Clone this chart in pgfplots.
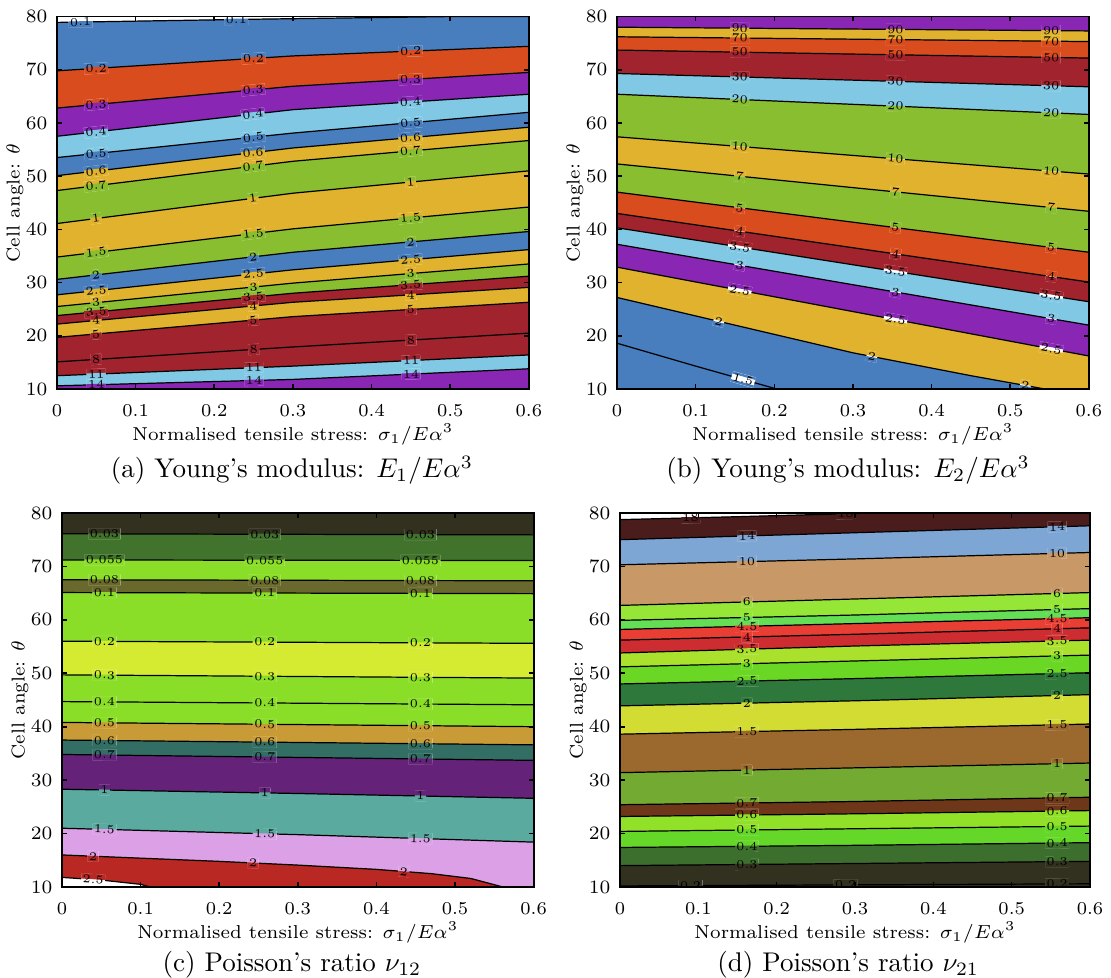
\documentclass[border=0pt]{standalone}
\usepackage{pgfplots}
\pgfplotsset{compat=1.18}
\usepgfplotslibrary{fillbetween}

% palette of panels (a) and (b)
\definecolor{aB}{RGB}{72,125,190}
\definecolor{aO}{RGB}{217,76,30}
\definecolor{aP}{RGB}{138,38,180}
\definecolor{aL}{RGB}{128,200,228}
\definecolor{aG}{RGB}{224,178,45}
\definecolor{aN}{RGB}{136,190,48}
\definecolor{aR}{RGB}{160,35,45}
% panel (c)
\definecolor{cK}{RGB}{50,48,30}
\definecolor{cD}{RGB}{65,115,45}
\definecolor{cL}{RGB}{138,222,40}
\definecolor{cO}{RGB}{105,105,45}
\definecolor{cY}{RGB}{212,235,50}
\definecolor{cH}{RGB}{200,155,55}
\definecolor{cT}{RGB}{50,110,100}
\definecolor{cP}{RGB}{100,35,120}
\definecolor{cS}{RGB}{90,170,160}
\definecolor{cI}{RGB}{220,160,230}
\definecolor{cR}{RGB}{185,40,35}
% panel (d)
\definecolor{dM}{RGB}{75,28,28}
\definecolor{dS}{RGB}{125,166,212}
\definecolor{dT}{RGB}{200,152,102}
\definecolor{dA}{RGB}{150,230,55}
\definecolor{dB}{RGB}{100,222,85}
\definecolor{dR}{RGB}{232,62,52}
\definecolor{dQ}{RGB}{205,45,48}
\definecolor{dY}{RGB}{170,225,45}
\definecolor{dG}{RGB}{105,215,35}
\definecolor{dD}{RGB}{45,120,58}
\definecolor{dW}{RGB}{210,220,50}
\definecolor{dN}{RGB}{155,105,45}
\definecolor{dO}{RGB}{115,170,50}
\definecolor{dE}{RGB}{110,55,25}
\definecolor{dL}{RGB}{145,225,40}
\definecolor{dF}{RGB}{100,215,40}
\definecolor{dK}{RGB}{60,110,45}
\definecolor{dV}{RGB}{50,48,30}

\tikzset{
  cl/.style={black, line width=0.45pt},
  lb/.style 2 args={sloped, fill=white, inner sep=0.5pt, font=\fontsize{4.4}{4.4}\selectfont,
    path picture={\fill[#1] (path picture bounding box.north west) rectangle (path picture bounding box.east);
                  \fill[#2] (path picture bounding box.west) rectangle (path picture bounding box.south east);}},
}
\newcommand\lbl[4]{node[lb={#1}{#2},pos=#3]{#4}}
\newcommand\tA[3]{\lbl{#1}{#2}{.083}{#3}\lbl{#1}{#2}{.417}{#3}\lbl{#1}{#2}{.75}{#3}}
\newcommand\tB[3]{\lbl{#1}{#2}{.26}{#3}\lbl{#1}{#2}{.59}{#3}\lbl{#1}{#2}{.92}{#3}}
\newcommand\tC[3]{\lbl{#1}{#2}{.09}{#3}\lbl{#1}{#2}{.43}{#3}\lbl{#1}{#2}{.76}{#3}}
\newcommand\tD[3]{\lbl{#1}{#2}{.27}{#3}\lbl{#1}{#2}{.93}{#3}}
\newcommand\fb[2]{\addplot[fill=#2, draw=none, forget plot] fill between[of=#1 and bot];}

% x is kept in hundredths of sigma_1/(E alpha^3); the tick labels give the real values
\pgfplotsset{pan/.style={
  scale only axis, anchor=south west,
  xmin=0, xmax=60, ymin=10, ymax=80,
  xtick={0,10,20,30,40,50,60}, xticklabels={0,0.1,0.2,0.3,0.4,0.5,0.6},
  ytick={10,20,30,40,50,60,70,80},
  set layers, axis on top,
  major tick length=1.8pt, tick style={black, line width=0.6pt},
  axis line style={line width=0.65pt},
  tick label style={font=\fontsize{6.7}{8}\selectfont},
  xticklabel style={yshift=-2.3pt},
  label style={font=\fontsize{6.9}{8}\selectfont},
  xlabel={Normalised tensile stress: $\sigma_1/E\alpha^3$},
  xlabel style={at={(axis description cs:0.5,-0.122)}, anchor=center},
  ylabel={Cell angle: $\theta$},
  ylabel style={at={(axis description cs:-0.089,0.5)}, anchor=center},
}}

\begin{document}
\begin{tikzpicture}

% (a) Young's modulus E1
\begin{axis}[pan, at={(21.09pt,217.56pt)}, width=174.6pt, height=137.8pt, axis background/.style={fill=white}]
\addplot[draw=none, forget plot, name path=bot] coordinates {(0,10) (60,10)};
\addplot[cl, name path=a1] coordinates {(0,78.9) (25,79.5) (50,80) (60,80)} \lbl{white}{aB}{.05}{0.1} \lbl{white}{aB}{.38}{0.1};
\fb{a1}{aB}
\addplot[cl, name path=a2] coordinates {(0,69.8) (30,72.6) (60,74.4)} \tA{aB}{aO}{0.2};
\fb{a2}{aO}
\addplot[cl, name path=a3] coordinates {(0,62.8) (30,66.9) (60,69.5)} \tA{aO}{aP}{0.3};
\fb{a3}{aP}
\addplot[cl, name path=a4] coordinates {(0,57.5) (30,62.5) (60,65.4)} \tA{aP}{aL}{0.4};
\fb{a4}{aL}
\addplot[cl, name path=a5] coordinates {(0,53.5) (30,58.1) (60,62.0)} \tA{aL}{aB}{0.5};
\fb{a5}{aB}
\addplot[cl, name path=a6] coordinates {(0,50.1) (30,55.3) (60,59.2)} \tA{aB}{aG}{0.6};
\fb{a6}{aG}
\addplot[cl, name path=a7] coordinates {(0,47.3) (30,52.8) (60,56.7)} \tA{aG}{aN}{0.7};
\fb{a7}{aN}
\addplot[cl, name path=a8] coordinates {(0,41.1) (30,46.8) (60,51.0)} \tA{aN}{aG}{1};
\fb{a8}{aG}
\addplot[cl, name path=a9] coordinates {(0,34.8) (30,40.1) (60,44.2)} \tA{aG}{aN}{1.5};
\fb{a9}{aN}
\addplot[cl, name path=a10] coordinates {(0,30.6) (30,35.7) (60,39.6)} \tA{aN}{aB}{2};
\fb{a10}{aB}
\addplot[cl, name path=a11] coordinates {(0,27.7) (30,32.4) (60,36.2)} \tA{aB}{aG}{2.5};
\fb{a11}{aG}
\addplot[cl, name path=a12] coordinates {(0,25.5) (30,29.9) (60,33.5)} \tA{aG}{aN}{3};
\fb{a12}{aN}
\addplot[cl, name path=a13] coordinates {(0,23.8) (30,28.0) (60,31.2)} \tA{aN}{aR}{3.5};
\fb{a13}{aR}
\addplot[cl, name path=a14] coordinates {(0,22.2) (30,26.3) (60,29.1)} \tA{aR}{aG}{4};
\fb{a14}{aG}
\addplot[cl, name path=a15] coordinates {(0,19.7) (30,23.6) (60,26.3)} \tA{aG}{aR}{5};
\fb{a15}{aR}
\addplot[cl, name path=a16] coordinates {(0,15.1) (30,17.9) (60,20.5)} \tA{aR}{aR}{8};
\fb{a16}{aR}
\addplot[cl, name path=a17] coordinates {(0,12.5) (30,14.3) (60,16.4)} \tA{aR}{aL}{11};
\fb{a17}{aL}
\addplot[cl, name path=a18] coordinates {(0,10.6) (30,11.8) (60,13.8)} \tA{aL}{aP}{14};
\fb{a18}{aP}
\end{axis}

% (b) Young's modulus E2
\begin{axis}[pan, at={(228.3pt,217.56pt)}, width=174.6pt, height=137.8pt, axis background/.style={fill=aP}]
\addplot[draw=none, forget plot, name path=bot] coordinates {(0,10) (60,10)};
\addplot[cl, name path=b1] coordinates {(0,78.0) (30,77.65) (60,77.3)} \tB{aP}{aG}{90};
\fb{b1}{aG}
\addplot[cl, name path=b2] coordinates {(0,76.2) (30,75.75) (60,75.3)} \tB{aG}{aO}{70};
\fb{b2}{aO}
\addplot[cl, name path=b3] coordinates {(0,73.7) (30,72.95) (60,72.2)} \tB{aO}{aR}{50};
\fb{b3}{aR}
\addplot[cl, name path=b4] coordinates {(0,69.3) (30,68.05) (60,66.8)} \tB{aR}{aL}{30};
\fb{b4}{aL}
\addplot[cl, name path=b5] coordinates {(0,65.4) (30,63.5) (60,61.6)} \tB{aL}{aN}{20};
\fb{b5}{aN}
\addplot[cl, name path=b6] coordinates {(0,57.4) (30,53.9) (60,50.4)} \tB{aN}{aG}{10};
\fb{b6}{aG}
\addplot[cl, name path=b7] coordinates {(0,52.3) (30,47.85) (60,43.4)} \tB{aG}{aN}{7};
\fb{b7}{aN}
\addplot[cl, name path=b8] coordinates {(0,47.0) (30,41.35) (60,35.7)} \tB{aN}{aO}{5};
\fb{b8}{aO}
\addplot[cl, name path=b9] coordinates {(0,43.0) (30,36.55) (60,30.1)} \tB{aO}{aR}{4};
\fb{b9}{aR}
\addplot[cl, name path=b10] coordinates {(0,40.3) (30,33.35) (60,26.4)} \tB{aR}{aL}{3.5};
\fb{b10}{aL}
\addplot[cl, name path=b11] coordinates {(0,37.2) (30,29.6) (60,22.0)} \tB{aL}{aP}{3};
\fb{b11}{aP}
\addplot[cl, name path=b12] coordinates {(0,32.9) (30,24.55) (60,16.2)} \tB{aP}{aG}{2.5};
\fb{b12}{aG}
\addplot[cl, name path=b13] coordinates {(0,27.2) (15,22.0) (30,16.8) (45,12.5) (54.4,10)}
  \lbl{aG}{aB}{.24}{2} \lbl{aG}{aB}{.6}{2} \lbl{aG}{aB}{.955}{2};
\fb{b13}{aB}
\addplot[cl, name path=b14] coordinates {(0,18.6) (10,14.3) (20.3,10)} \lbl{aB}{aB}{.79}{1.5};
\fb{b14}{aB}
\end{axis}

% (c) Poisson's ratio nu12
\begin{axis}[pan, at={(22.94pt,33.3pt)}, width=174.5pt, height=138.4pt, axis background/.style={fill=cK}]
\addplot[draw=none, forget plot, name path=bot] coordinates {(0,10) (60,10)};
\addplot[cl, name path=c1] coordinates {(0,76.1) (30,76.0) (60,75.9)} \tC{cK}{cD}{0.03};
\fb{c1}{cD}
\addplot[cl, name path=c2] coordinates {(0,71.2) (30,71.15) (60,71.1)} \tC{cD}{cL}{0.055};
\fb{c2}{cL}
\addplot[cl, name path=c3] coordinates {(0,67.5) (30,67.4) (60,67.3)} \tC{cL}{cO}{0.08};
\fb{c3}{cO}
\addplot[cl, name path=c4] coordinates {(0,65.1) (30,65.0) (60,64.9)} \tC{cO}{cL}{0.1};
\fb{c4}{cL}
\addplot[cl, name path=c5] coordinates {(0,56.0) (30,55.8) (60,55.6)} \tC{cL}{cY}{0.2};
\fb{c5}{cY}
\addplot[cl, name path=c6] coordinates {(0,49.7) (30,49.4) (60,49.1)} \tC{cY}{cL}{0.3};
\fb{c6}{cL}
\addplot[cl, name path=c7] coordinates {(0,44.7) (30,44.4) (60,44.1)} \tC{cL}{cL}{0.4};
\fb{c7}{cL}
\addplot[cl, name path=c8] coordinates {(0,40.8) (30,40.4) (60,40.0)} \tC{cL}{cH}{0.5};
\fb{c8}{cH}
\addplot[cl, name path=c9] coordinates {(0,37.5) (30,37.05) (60,36.6)} \tC{cH}{cT}{0.6};
\fb{c9}{cT}
\addplot[cl, name path=c10] coordinates {(0,34.8) (30,34.25) (60,33.7)} \tC{cT}{cP}{0.7};
\fb{c10}{cP}
\addplot[cl, name path=c11] coordinates {(0,28.3) (30,27.5) (60,26.6)} \tC{cP}{cS}{1};
\fb{c11}{cS}
\addplot[cl, name path=c12] coordinates {(0,21.0) (30,19.8) (60,18.4)} \tC{cS}{cI}{1.5};
\fb{c12}{cI}
\addplot[cl, name path=c13] coordinates {(0,16.0) (10,15.4) (20,14.8) (30,14.1) (40,13.3) (47,12.5) (52,11.6) (56.1,10)}
  \lbl{cI}{cR}{.07}{2} \lbl{cI}{cR}{.43}{2} \lbl{cI}{cR}{.77}{2};
\fb{c13}{cR}
\addplot[cl, name path=c14] coordinates {(0,11.8) (5,11.3) (10,10.5) (11.2,10)} \lbl{cR}{white}{.35}{2.5};
\fb{c14}{white}
\end{axis}

% (d) Poisson's ratio nu21
\begin{axis}[pan, at={(229.4pt,33.3pt)}, width=173.9pt, height=138.4pt, axis background/.style={fill=white}]
\addplot[draw=none, forget plot, name path=bot] coordinates {(0,10) (60,10)};
\addplot[cl, name path=d1] coordinates {(0,78.75) (15,79.3) (30,79.9) (33,80) (60,80)} \lbl{white}{dM}{.15}{18} \lbl{white}{dM}{.48}{18};
\fb{d1}{dM}
\addplot[cl, name path=d2] coordinates {(0,75.0) (30,76.3) (60,77.6)} \tD{dM}{dS}{14};
\fb{d2}{dS}
\addplot[cl, name path=d3] coordinates {(0,70.3) (30,71.4) (60,72.6)} \tD{dS}{dT}{10};
\fb{d3}{dT}
\addplot[cl, name path=d4] coordinates {(0,62.7) (30,63.9) (60,65.1)} \tD{dT}{dA}{6};
\fb{d4}{dA}
\addplot[cl, name path=d5] coordinates {(0,59.9) (30,60.9) (60,62.1)} \tD{dA}{dB}{5};
\fb{d5}{dB}
\addplot[cl, name path=d6] coordinates {(0,58.2) (30,59.3) (60,60.4)} \tD{dB}{dR}{4.5};
\fb{d6}{dR}
\addplot[cl, name path=d7] coordinates {(0,56.2) (30,57.3) (60,58.5)} \tD{dR}{dQ}{4};
\fb{d7}{dQ}
\addplot[cl, name path=d8] coordinates {(0,53.8) (30,55.1) (60,56.2)} \tD{dQ}{dY}{3.5};
\fb{d8}{dY}
\addplot[cl, name path=d9] coordinates {(0,51.2) (30,52.3) (60,53.4)} \tD{dY}{dG}{3};
\fb{d9}{dG}
\addplot[cl, name path=d10] coordinates {(0,48.0) (30,49.0) (60,50.1)} \tD{dG}{dD}{2.5};
\fb{d10}{dD}
\addplot[cl, name path=d11] coordinates {(0,43.9) (30,44.85) (60,46.0)} \tD{dD}{dW}{2};
\fb{d11}{dW}
\addplot[cl, name path=d12] coordinates {(0,38.6) (30,39.5) (60,40.5)} \tD{dW}{dN}{1.5};
\fb{d12}{dN}
\addplot[cl, name path=d13] coordinates {(0,31.4) (30,32.3) (60,33.2)} \tD{dN}{dO}{1};
\fb{d13}{dO}
\addplot[cl, name path=d14] coordinates {(0,25.4) (30,26.0) (60,26.8)} \tD{dO}{dE}{0.7};
\fb{d14}{dE}
\addplot[cl, name path=d15] coordinates {(0,23.2) (30,23.7) (60,24.3)} \tD{dE}{dL}{0.6};
\fb{d15}{dL}
\addplot[cl, name path=d16] coordinates {(0,20.4) (30,20.9) (60,21.4)} \tD{dL}{dF}{0.5};
\fb{d16}{dF}
\addplot[cl, name path=d17] coordinates {(0,17.4) (30,17.8) (60,18.3)} \tD{dF}{dK}{0.4};
\fb{d17}{dK}
\addplot[cl, name path=d18] coordinates {(0,14.0) (30,14.4) (60,14.8)} \tD{dK}{dV}{0.3};
\fb{d18}{dV}
\addplot[cl, name path=d19] coordinates {(0,10.2) (30,10.4) (60,10.6)} \lbl{dV}{dV}{.15}{0.2} \lbl{dV}{dV}{.48}{0.2} \lbl{dV}{dV}{.93}{0.2};
\fb{d19}{dV}
\end{axis}

\node at (108.0pt,187.5pt) {(a) Young's modulus: $E_1/E\alpha^3$};
\node at (313.8pt,187.5pt) {(b) Young's modulus: $E_2/E\alpha^3$};
\node at (108.0pt,4.6pt) {(c) Poisson's ratio $\nu_{12}$};
\node at (313.8pt,4.6pt) {(d) Poisson's ratio $\nu_{21}$};
\pgfresetboundingbox
\path[use as bounding box] (0,0) rectangle (411.07pt,361.49pt);
\end{tikzpicture}
\end{document}
